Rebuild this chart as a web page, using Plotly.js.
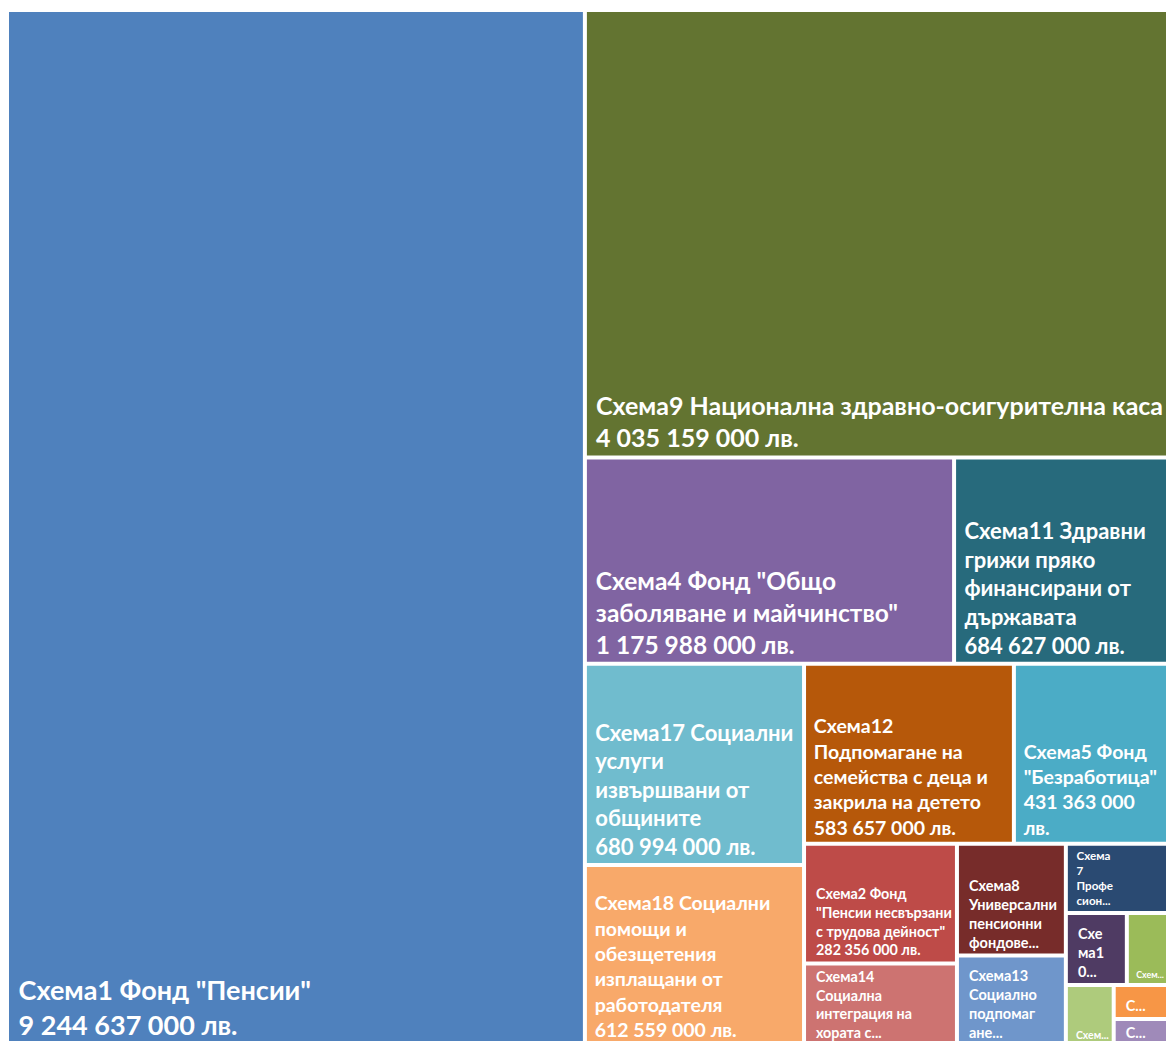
<!DOCTYPE html>
<html>
<head>
<meta charset="utf-8">
<script src="https://cdn.plot.ly/plotly-3.0.1.min.js"></script>
<style>
html,body{margin:0;padding:0;overflow:hidden;background:#fff;}
#chart{width:1167px;height:1044px;}
</style>
</head>
<body>
<div id="chart"></div>
<script>
// Scheme ids and wrapped display names
const schemes = ["Схема1","Схема9","Схема4","Схема11","Схема17","Схема18","Схема12","Схема5","Схема2","Схема14","Схема8","Схема13","Схема7","Схема10","Схема3","Схема15","Схема6","Схема16"];
const displayNames = [
  'Схема1 Фонд "Пенсии"',
  'Схема9 Национална здравно-осигурителна каса',
  'Схема4 Фонд "Общо<br>заболяване и майчинство"',
  'Схема11 Здравни<br>грижи пряко<br>финансирани от<br>държавата',
  'Схема17 Социални<br>услуги<br>извършвани от<br>общините',
  'Схема18 Социални<br>помощи и<br>обезщетения<br>изплащани от<br>работодателя',
  'Схема12<br>Подпомагане на<br>семейства с деца и<br>закрила на детето',
  'Схема5 Фонд<br>"Безработица"',
  'Схема2 Фонд<br>"Пенсии несвързани<br>с трудова дейност"',
  'Схема14<br>Социална<br>интеграция на<br>хората с...',
  'Схема8<br>Универсални<br>пенсионни<br>фондове...',
  'Схема13<br>Социално<br>подпомаг<br>ане...',
  'Схема<br>7<br>Профе<br>сион...',
  'Схе<br>ма1<br>0...',
  'Схем...',
  'Схем...',
  'С...',
  'С...'
];
// Values in лв. (small schemes estimated from their areas)
const values = [9244637000,4035159000,1175988000,684627000,680994000,612559000,583657000,431363000,282356000,195000000,188000000,152000000,110000000,68000000,47000000,45000000,29000000,23000000];
const colors = ["#4F81BD","#637431","#8064A2","#276A7C","#70BCCE","#F8A96A","#B6580A","#4BACC6","#BE4B48","#CD7371","#772C2A","#6F96CB","#2A4A72","#4F3B63","#9BBB59","#AECB7C","#F79646","#9F8AB9"];
// formatting only: how the value line wraps (0 one line, 1 "лв." on new line, -1 hidden)
const valueWrap = [0,0,0,0,0,0,0,1,0,-1,-1,-1,-1,-1,-1,-1,-1,-1];
const fontSizes = [27,25,24.5,22,22,19.5,19.5,19.5,14.5,14.5,14.5,14.5,14.5,14.5,14.5,14.5,14.5,14.5];

function fmt(v){ return String(v).replace(/\B(?=(\d{3})+(?!\d))/g,' '); }
const texts = displayNames.map((n,i)=>{
  const f = fmt(values[i]);
  let s = n;
  if (valueWrap[i]===0) s = n + '<br>' + f + ' лв.';
  if (valueWrap[i]===1) s = n + '<br>' + f + '<br>лв.';
  const lead = fontSizes[i] < 16 ? '\u00A0\u00A0' : '\u00A0';
  return s.split('<br>').map(l=>lead+l).join('<br>');
});

const trace = {
  type:'treemap',
  ids: schemes,
  labels: schemes,
  parents: schemes.map(()=>''),
  values: values,
  text: texts,
  texttemplate: '<b>%{text}</b>',
  textposition: 'bottom left',
  textfont: {family:'Lato, "Noto Sans", sans-serif', color:'#ffffff', size: fontSizes},
  marker: {colors: colors, line:{width:0, color:'#ffffff'}, pad:{t:0,l:0,r:0,b:0}},
  tiling: {packing:'squarify', squarifyratio:1, pad:4},
  pathbar: {visible:false},
  sort: true,
  hoverinfo: 'none'
};
const layout = {
  width:1167, height:1044,
  margin:{l:9,r:0,t:12,b:0},
  paper_bgcolor:'#ffffff',
  showlegend:false
};
Plotly.newPlot('chart',[trace],layout,{staticPlot:true,displayModeBar:false});
</script>
</body>
</html>
